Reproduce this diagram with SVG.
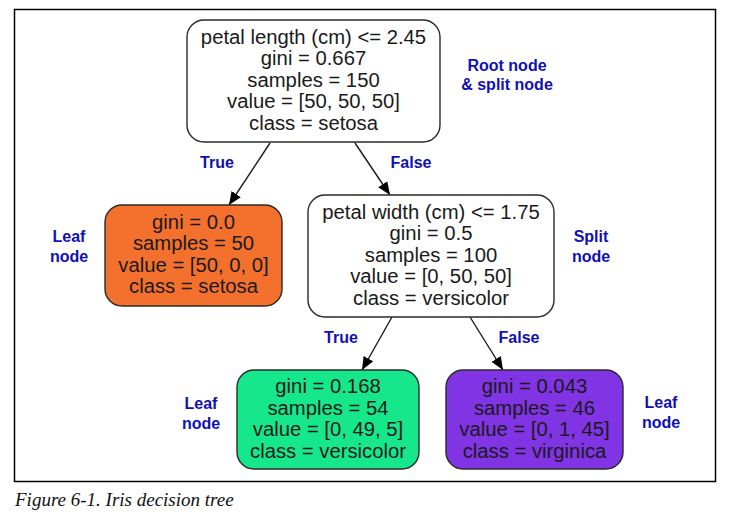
<svg xmlns="http://www.w3.org/2000/svg" width="739" height="528" viewBox="0 0 739 528">
  <style>
    .node { stroke: #2a2a2a; stroke-width: 1.4; }
    .nt { font-family: "Liberation Sans", Arial, sans-serif; font-size: 19.5px; fill: #1a1a1a; text-anchor: middle; }
    .lbl { font-family: "Liberation Sans", Arial, sans-serif; font-size: 16px; font-weight: bold; fill: #1010b4; text-anchor: middle; }
    .edge { stroke: #1a1a1a; stroke-width: 1.4; fill: none; }
    .cap { font-family: "Liberation Serif", "Times New Roman", serif; font-style: italic; font-size: 19px; fill: #111; }
  </style>
  <defs>
    <marker id="arrow" markerUnits="userSpaceOnUse" markerWidth="14" markerHeight="12" refX="13" refY="5.5" orient="auto">
      <path d="M0,0 L13,5.5 L0,11 z" fill="#000"/>
    </marker>
  </defs>
  <rect width="739" height="528" fill="#fff"/>
  <rect x="14.5" y="9.5" width="701" height="472" fill="none" stroke="#000" stroke-width="1.5"/>

  <g id="connectors">
    <line class="edge" x1="270" y1="143" x2="229" y2="205" marker-end="url(#arrow)"/>
    <line class="edge" x1="355" y1="143" x2="390" y2="195" marker-end="url(#arrow)"/>
    <line class="edge" x1="392" y1="317" x2="362" y2="370" marker-end="url(#arrow)"/>
    <line class="edge" x1="470" y1="317" x2="503" y2="370" marker-end="url(#arrow)"/>
    <text class="lbl" x="217" y="168">True</text>
    <text class="lbl" x="411" y="168">False</text>
    <text class="lbl" x="341" y="343">True</text>
    <text class="lbl" x="519" y="343">False</text>
  </g>

  <g id="root">
    <rect class="node" x="187" y="20" width="253" height="122" rx="17" fill="#fff"/>
    <g transform="translate(313.5,0) scale(1.04,1)">
      <text class="nt" x="0" y="44">petal length (cm) &lt;= 2.45</text>
      <text class="nt" x="0" y="65.5">gini = 0.667</text>
      <text class="nt" x="0" y="87">samples = 150</text>
      <text class="nt" x="0" y="108.5">value = [50, 50, 50]</text>
      <text class="nt" x="0" y="130">class = setosa</text>
    </g>
  </g>

  <g id="leaf-setosa">
    <rect class="node" x="105" y="205" width="177" height="101" rx="17" fill="#f4712d"/>
    <g transform="translate(193.5,0) scale(1.04,1)">
      <text class="nt" x="0" y="229">gini = 0.0</text>
      <text class="nt" x="0" y="250.5">samples = 50</text>
      <text class="nt" x="0" y="272">value = [50, 0, 0]</text>
      <text class="nt" x="0" y="293.5">class = setosa</text>
    </g>
  </g>

  <g id="split">
    <rect class="node" x="308" y="195" width="246" height="122" rx="17" fill="#fff"/>
    <g transform="translate(431,0) scale(1.04,1)">
      <text class="nt" x="0" y="219">petal width (cm) &lt;= 1.75</text>
      <text class="nt" x="0" y="240.5">gini = 0.5</text>
      <text class="nt" x="0" y="262">samples = 100</text>
      <text class="nt" x="0" y="283.5">value = [0, 50, 50]</text>
      <text class="nt" x="0" y="305">class = versicolor</text>
    </g>
  </g>

  <g id="leaf-versicolor">
    <rect class="node" x="237" y="370" width="182" height="99" rx="17" fill="#17e78b"/>
    <g transform="translate(328,0) scale(1.04,1)">
      <text class="nt" x="0" y="393.5">gini = 0.168</text>
      <text class="nt" x="0" y="415">samples = 54</text>
      <text class="nt" x="0" y="436.5">value = [0, 49, 5]</text>
      <text class="nt" x="0" y="458">class = versicolor</text>
    </g>
  </g>

  <g id="leaf-virginica">
    <rect class="node" x="446" y="370" width="177" height="99" rx="17" fill="#8034e4"/>
    <g transform="translate(534.5,0) scale(1.04,1)">
      <text class="nt" x="0" y="393.5">gini = 0.043</text>
      <text class="nt" x="0" y="415">samples = 46</text>
      <text class="nt" x="0" y="436.5">value = [0, 1, 45]</text>
      <text class="nt" x="0" y="458">class = virginica</text>
    </g>
  </g>

  <g id="annotations">
    <text class="lbl" x="507" y="71">Root node</text>
    <text class="lbl" x="507" y="90">&amp; split node</text>
    <text class="lbl" x="69" y="242">Leaf</text>
    <text class="lbl" x="69" y="262">node</text>
    <text class="lbl" x="591" y="242">Split</text>
    <text class="lbl" x="591" y="262">node</text>
    <text class="lbl" x="201" y="409">Leaf</text>
    <text class="lbl" x="201" y="429">node</text>
    <text class="lbl" x="661" y="408">Leaf</text>
    <text class="lbl" x="661" y="428">node</text>
  </g>

  <text class="cap" x="15" y="506">Figure 6-1. Iris decision tree</text>
</svg>
